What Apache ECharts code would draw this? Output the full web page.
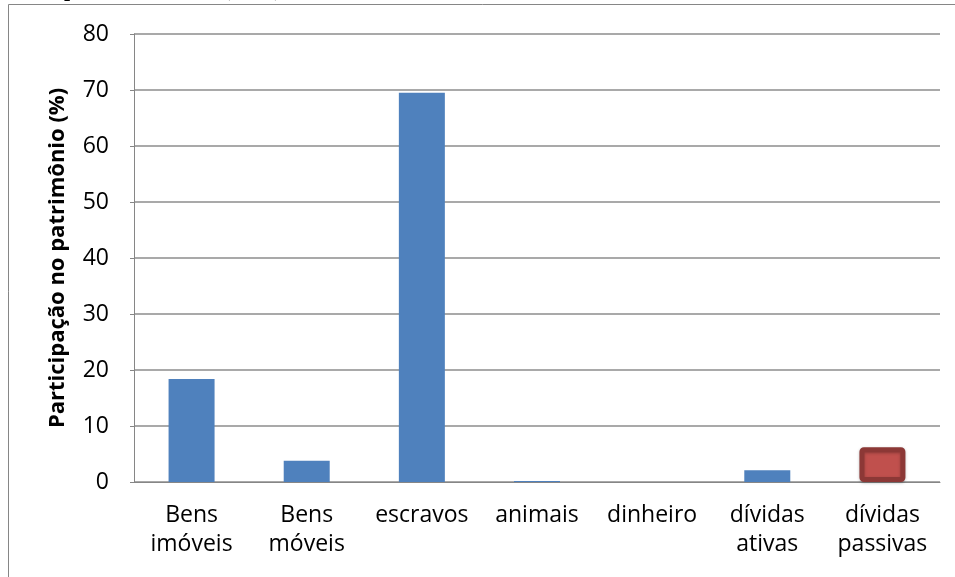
<!DOCTYPE html>
<html>
<head>
<meta charset="utf-8">
<script src="https://cdn.jsdelivr.net/npm/echarts@6/dist/echarts.min.js"></script>
<style>
  html, body { margin: 0; padding: 0; background: #ffffff; }
  #chart { width: 955px; height: 577px; }
</style>
</head>
<body>
<div id="chart"></div>
<script>
// Asset categories and their share of the estate (%)
const categories = ['Bens\nimóveis', 'Bens\nmóveis', 'escravos', 'animais', 'dinheiro', 'dívidas\nativas', 'dívidas\npassivas'];
const shares = [18.4, 3.8, 69.5, 0.2, 0, 2.1, 6.2];
const yTicks = [0, 10, 20, 30, 40, 50, 60, 70, 80];

const blue = '#4F81BD';
const red = '#C0504D';
const labelFont = '"Open Sans", Lato, sans-serif';

const chart = echarts.init(document.getElementById('chart'), null, { renderer: 'canvas' });

const barData = shares.map((v, i) => {
  if (i === categories.length - 1) {
    return {
      value: v,
      itemStyle: {
        color: red,
        borderColor: '#8C3836',
        borderWidth: 5,
        borderRadius: 2,
        shadowColor: 'rgba(0,0,0,0.25)',
        shadowBlur: 3,
        shadowOffsetY: 1
      }
    };
  }
  return { value: v, itemStyle: { color: blue } };
});

chart.setOption({
  animation: false,
  backgroundColor: '#ffffff',
  graphic: [
    {
      type: 'rect',
      shape: { x: 8.5, y: 4.5, width: 960, height: 600 },
      style: { fill: 'none', stroke: '#868686', lineWidth: 1 },
      z: -1
    },
    {
      type: 'text',
      left: 64,
      top: -21,
      style: {
        text: 'patrimônio total (1850)',
        font: 'bold 22px "Liberation Serif", serif',
        fill: '#000000'
      }
    }
  ],
  grid: { left: 134, right: 15, top: 34, bottom: 95, containLabel: false },
  xAxis: {
    type: 'category',
    data: categories,
    axisLine: { show: true, lineStyle: { color: '#868686', width: 1 } },
    axisTick: { show: false },
    axisLabel: {
      color: '#000000',
      fontFamily: labelFont,
      fontSize: 23,
      lineHeight: 29,
      margin: 19,
      interval: 0
    }
  },
  yAxis: {
    type: 'value',
    min: 0,
    max: 80,
    interval: 10,
    name: 'Participação no patrimônio (%)',
    nameLocation: 'middle',
    nameGap: 65,
    nameRotate: 90,
    nameTextStyle: {
      color: '#000000',
      fontFamily: labelFont,
      fontSize: 22,
      fontWeight: 'bold'
    },
    axisLine: { show: true, lineStyle: { color: '#868686', width: 1 } },
    axisTick: { show: true, length: 4, lineStyle: { color: '#868686' } },
    splitLine: { show: true, lineStyle: { color: '#8c8c8c', width: 1.5 } },
    axisLabel: {
      color: '#000000',
      fontFamily: labelFont,
      fontSize: 23,
      margin: 25,
      formatter: (v) => (yTicks.includes(v) ? String(v) : '')
    }
  },
  series: [
    {
      type: 'bar',
      data: barData,
      barWidth: 46
    }
  ]
});
</script>
</body>
</html>
